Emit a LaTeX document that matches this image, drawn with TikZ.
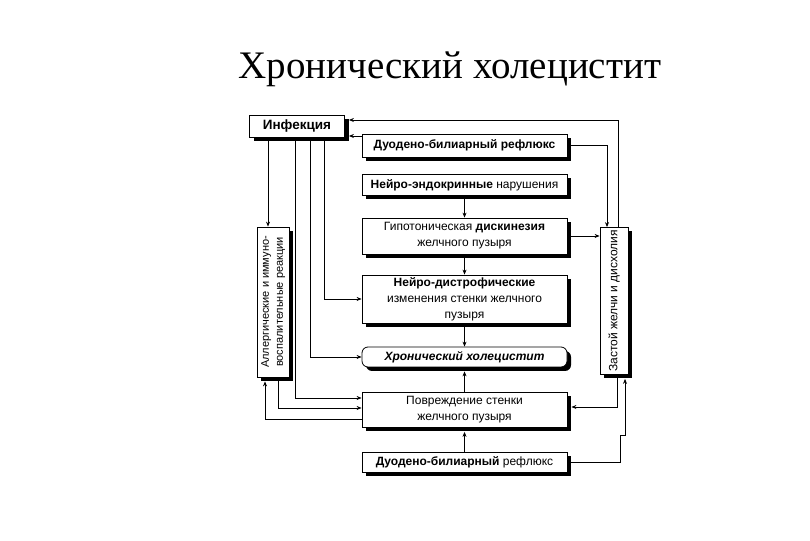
\documentclass[tikz,border=0pt]{standalone}
\usepackage{fontspec}
\setmainfont{Liberation Serif}
\newfontfamily\boxfont{Liberation Sans}
\usetikzlibrary{calc,shadows,arrows.meta}

\tikzset{
  blk/.style={draw, line width=0.8pt, fill=white, align=center, inner sep=2pt,
    font=\boxfont\fontsize{12}{16}\selectfont,
    drop shadow={shadow xshift=4pt, shadow yshift=-4pt, fill=black, opacity=1}},
  wide/.style={blk, minimum width=205pt},
  link/.style={line width=0.7pt, -{Stealth[length=5pt,width=4pt]}},
}

\begin{document}
\begin{tikzpicture}[x=1pt,y=1pt]
    \useasboundingbox (0,0) rectangle (810,540);
    \node (title) at (450,471) {\fontsize{39}{44}\selectfont Хронический холецистит};

    % boxes of the middle column
    \node[blk, minimum width=95pt, minimum height=22pt, font=\boxfont\fontsize{13.5}{16}\selectfont] (inf) at (297,414) {\bfseries Инфекция};
    \node[wide, minimum height=23pt] (dbr1) at (464.5,394.5) {\bfseries Дуодено-билиарный рефлюкс};
    \node[wide, minimum height=21pt] (ne) at (464.5,355) {\bfseries Нейро-эндокринные \mdseries нарушения};
    \node[wide, minimum height=36pt] (gip) at (464.5,304) {Гипотоническая \textbf{дискинезия}\\желчного пузыря};
    \node[wide, minimum height=48pt] (nd) at (464.5,241) {\textbf{Нейро-дистрофические}\\изменения стенки желчного\\пузыря};
    \node[wide, minimum height=20pt, rounded corners=6pt] (chr) at (464.5,183) {\bfseries\itshape Хронический холецистит};
    \node[wide, minimum height=35pt] (pov) at (464.5,130) {Повреждение стенки\\желчного пузыря};
    \node[wide, minimum height=20pt] (dbr2) at (464.5,78) {\textbf{Дуодено-билиарный} рефлюкс};

    % side boxes
    \node[blk, minimum width=32pt, minimum height=150pt, inner sep=0pt, font=\boxfont\fontsize{11}{14}\selectfont] (all) at (273,238)
      {\rotatebox{90}{\begin{tabular}{@{}c@{}}Аллергические и иммуно-\\воспалительные реакции\end{tabular}}};
    \node[blk, minimum width=28pt, minimum height=147pt, inner sep=0pt, font=\boxfont\fontsize{12}{14}\selectfont] (zas) at (614,239)
      {\rotatebox{90}{Застой желчи и дисхолия}};

    % bus lines
    \coordinate (xa) at (268,0);
    \coordinate (xb) at (295,0);
    \coordinate (xc) at (310,0);
    \coordinate (xd) at (324,0);
    \coordinate (xe) at (278,0);
    \coordinate (xf) at (265,0);
    \coordinate (r1) at (607,0);
    \coordinate (r2) at (618,420);
    \coordinate (r3) at (0,404);
    \coordinate (r4) at (617,133);
    \coordinate (j1) at (620,105);
    \coordinate (j2) at (625,105);

    % from the infection
    \draw[link] (inf.south -| xa) -- (all.north -| xa);
    \draw[link] (inf.south -| xd) |- (nd.west);
    \draw[link] (inf.south -| xc) |- (chr.west);
    \draw[link] (inf.south -| xb) |- ([yshift=12pt]pov.west);

    % middle column
    \draw[link] (ne.south) -- (gip.north);
    \draw[link] (gip.south) -- (nd.north);
    \draw[link] (nd.south) -- (chr.north);
    \draw[link] (pov.north) -- ([yshift=-4pt]chr.south);
    \draw[link] (dbr2.north) -- ([yshift=-4pt]pov.south);

    % left side
    \draw[link] (all.south -| xe) |- ([yshift=2pt]pov.west);
    \draw[link] ([yshift=-9pt]pov.west) -| ([yshift=-4pt]all.south -| xf);

    % right side
    \draw[link] (dbr1.west |- r3) -- ([xshift=4pt]inf.east |- r3);
    \draw[link] (zas.north -| r2) |- ([xshift=4pt]inf.east |- r2);
    \draw[link] (dbr1.east) -| (zas.north -| r1);
    \draw[link] (gip.east) -- (gip.east -| zas.west);
    \draw[link] (zas.south -| r4) |- ([xshift=4pt]pov.east |- r4);
    \draw[link] (dbr2.east) -| (j1) -- (j2) -- ([yshift=-4pt]zas.south -| j2);
\end{tikzpicture}
\end{document}
